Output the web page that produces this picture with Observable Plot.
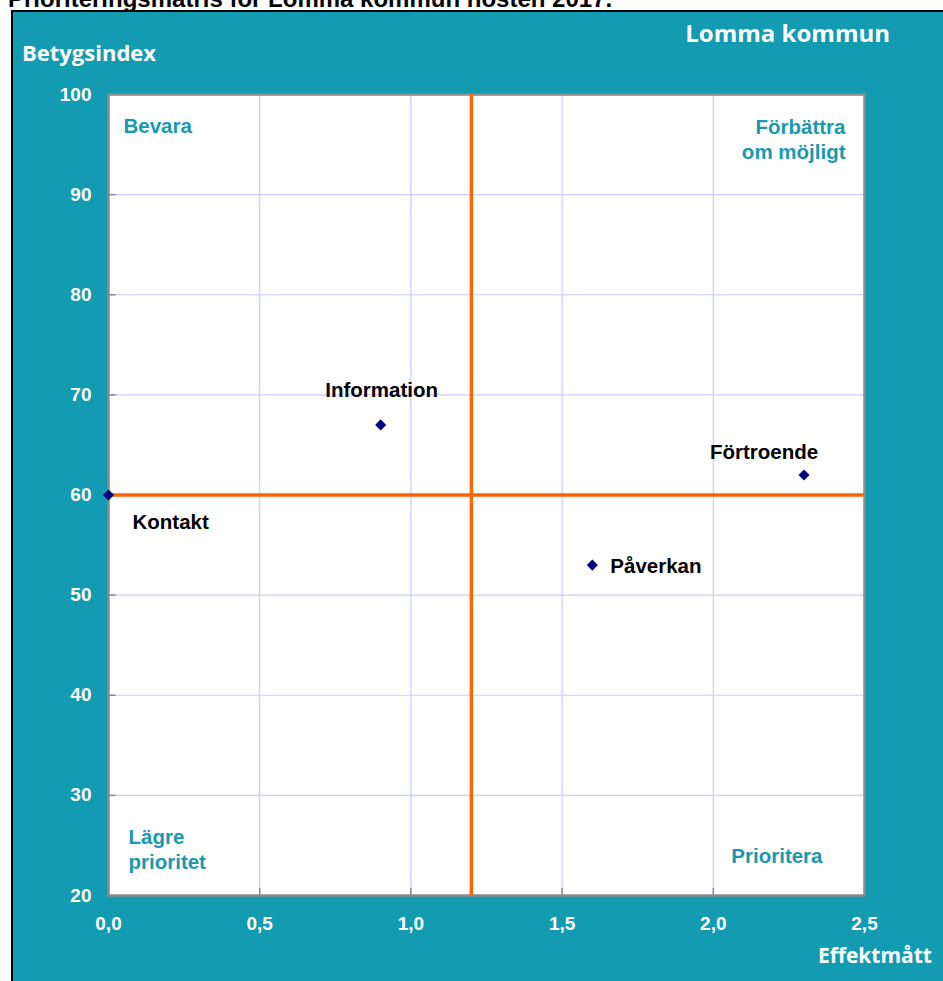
<!DOCTYPE html>
<html><head><meta charset="utf-8">
<script src="https://cdn.jsdelivr.net/npm/d3@7"></script>
<script src="https://cdn.jsdelivr.net/npm/@observablehq/plot@0.6"></script>
<style>
body{margin:0;background:#fff;overflow:hidden;}
#wrap{position:relative;width:943px;height:981px;overflow:hidden;}
#frame{position:absolute;left:11px;top:10px;right:0;bottom:0;background:#139bb2;border-left:2px solid #000;border-top:2px solid #000;}
#title{position:absolute;left:8px;top:-13px;font:bold 24px "Liberation Sans",Arial,sans-serif;line-height:1;color:#000;white-space:nowrap;}
.lab{position:absolute;font-family:"Open Sans",Lato,sans-serif;font-weight:700;color:#fff;line-height:1;white-space:nowrap;}
#chart{position:absolute;left:0;top:0;}
</style></head>
<body>
<div id="wrap">
  <div id="title">Prioriteringsmatris för Lomma kommun hösten 2017.</div>
  <div id="frame"></div>
  <div class="lab" id="ylab" style="left:22px;top:41px;font-size:22px;">Betygsindex</div>
  <div class="lab" id="muni" style="right:53px;top:21px;font-size:24px;">Lomma kommun</div>
  <div class="lab" id="xlab" style="right:11px;top:945px;font-size:21px;">Effektmått</div>
  <div id="chart"></div>
</div>
<script>
// ---- data ----
const names = ["Information", "Kontakt", "Förtroende", "Påverkan"];
const effekt = [0.9, 0.0, 2.3, 1.6];
const betyg = [67, 60, 62, 53];
const xTicks = [0, 0.5, 1.0, 1.5, 2.0, 2.5];
const yTicks = [20, 30, 40, 50, 60, 70, 80, 90, 100];
const xThreshold = [1.2];
const yThreshold = [60];
const quadrantLabels = ["Bevara", "Förbättra\nom möjligt", "Lägre\nprioritet", "Prioritera"];

const points = names.map((n, i) => ({name: n, x: effekt[i], y: betyg[i]}));

// ---- styles ----
const teal = "#1899b0";
const labelPlacement = {
  "Information": {textAnchor: "middle", dx: 1, dy: -34},
  "Kontakt": {textAnchor: "start", dx: 24, dy: 27},
  "Förtroende": {textAnchor: "middle", dx: -40, dy: -23},
  "Påverkan": {textAnchor: "start", dx: 18, dy: 1}
};
const quadrantPlacement = [
  {frameAnchor: "top-left", textAnchor: "start", lineAnchor: "top", dx: 15, dy: 21},
  {frameAnchor: "top-right", textAnchor: "end", lineAnchor: "top", dx: -19, dy: 22},
  {frameAnchor: "bottom-left", textAnchor: "start", lineAnchor: "bottom", dx: 20, dy: -27},
  {frameAnchor: "bottom-right", textAnchor: "end", lineAnchor: "bottom", dx: -42, dy: -33}
];
const font = "'Liberation Sans', Arial, sans-serif";

const marks = [
  Plot.frame({fill: "white", stroke: null}),
  Plot.gridX(xTicks.slice(1, -1), {stroke: "#ccccff", strokeOpacity: 1, strokeWidth: 1.2}),
  Plot.gridY(yTicks.slice(1, -1), {stroke: "#ccccff", strokeOpacity: 1, strokeWidth: 1.2}),
  Plot.ruleX(xTicks.slice(1, -1), {y1: 20, y2: 20.7, stroke: "#888", strokeWidth: 1.5}),
  Plot.ruleY(yTicks.slice(1, -1), {x1: 0, x2: 0.025, stroke: "#888", strokeWidth: 1.5}),
  Plot.frame({stroke: "#8a8a8a", strokeWidth: 2.5}),
  Plot.ruleX(xThreshold, {stroke: "#ff6600", strokeWidth: 3.5}),
  Plot.ruleY(yThreshold, {stroke: "#ff6600", strokeWidth: 3.5}),
  Plot.dot(points, {x: "x", y: "y", symbol: "diamond2", r: 5, fill: "#000080", stroke: "none", clip: false}),
  ...names.map(n => Plot.text(points.filter(d => d.name === n), {
    x: "x", y: "y", text: "name", ...labelPlacement[n],
    fill: "#000", fontSize: 20.5, fontWeight: "bold", fontFamily: font
  })),
  ...quadrantLabels.map((q, i) => Plot.text([q], {
    text: d => d, ...quadrantPlacement[i], lineHeight: 1.22,
    fill: teal, fontSize: 20.5, fontWeight: "bold", fontFamily: font
  })),
  Plot.axisX(xTicks, {tickSize: 0, tickPadding: 21, tickFormat: d => d.toFixed(1).replace(".", ","),
    fill: "white", fontSize: 19, fontWeight: "bold", fontFamily: font, label: null}),
  Plot.axisY(yTicks, {tickSize: 0, tickPadding: 17, tickFormat: d => String(d),
    fill: "white", fontSize: 19, fontWeight: "bold", fontFamily: font, label: null})
];

const chart = Plot.plot({
  width: 943,
  height: 981,
  marginLeft: 108,
  marginRight: 79,
  marginTop: 94,
  marginBottom: 86,
  style: {background: "transparent", overflow: "visible"},
  x: {domain: [0, 2.5]},
  y: {domain: [20, 100]},
  marks
});
document.getElementById("chart").appendChild(chart);
</script>
</body></html>
